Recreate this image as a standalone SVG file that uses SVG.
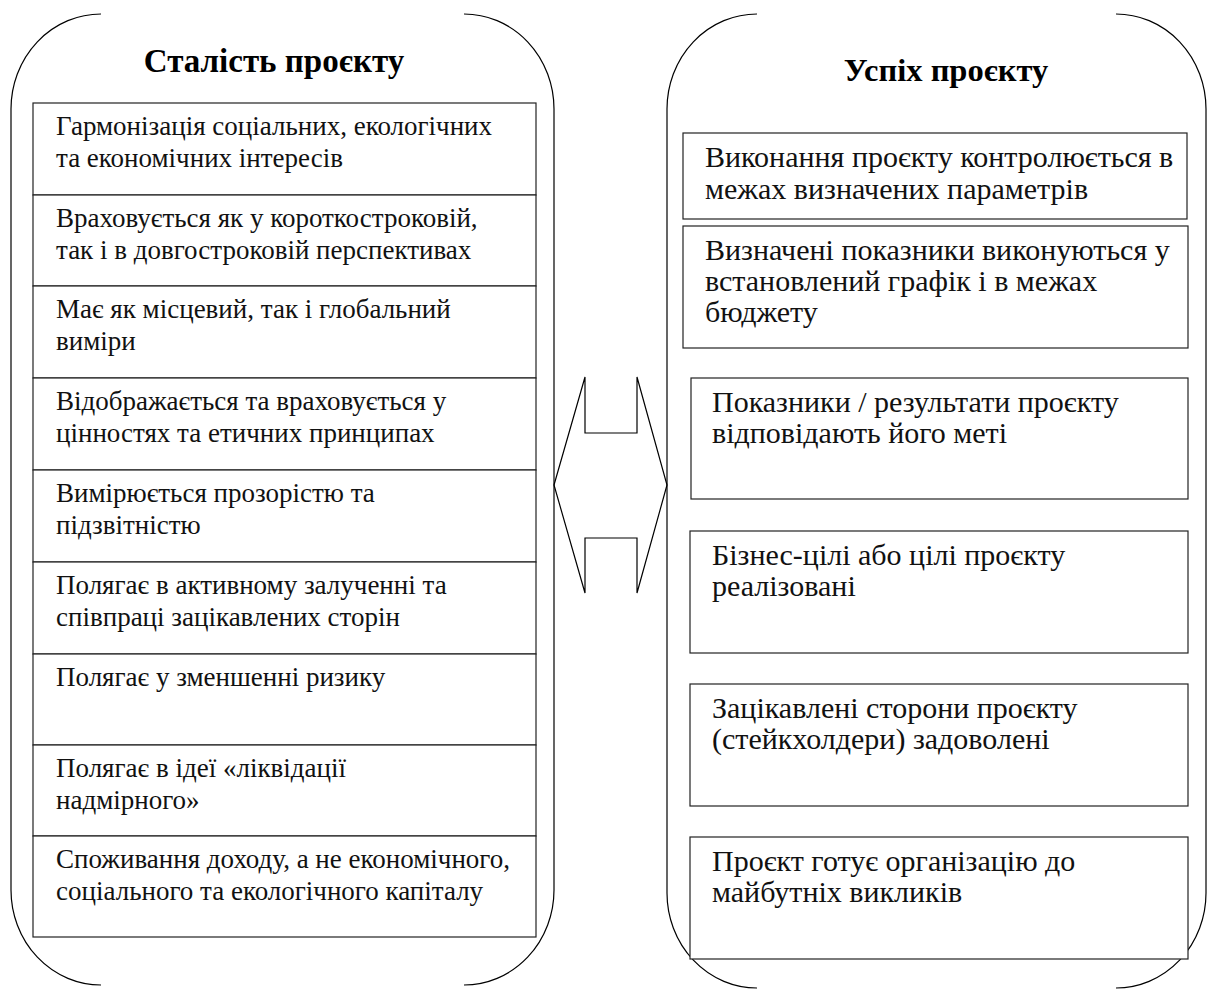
<svg xmlns="http://www.w3.org/2000/svg" width="1210" height="994" viewBox="0 0 1210 994">
<style>
.br{fill:none;stroke:#000;stroke-width:1.2}
.bx{fill:#fff;stroke:#222;stroke-width:1.2}
.t{font-family:"Liberation Serif","DejaVu Serif",serif;font-size:27px;fill:#111}
.r{font-family:"Liberation Serif","DejaVu Serif",serif;font-size:30px;fill:#111}
.h{font-family:"Liberation Serif","DejaVu Serif",serif;font-size:33px;font-weight:bold;fill:#000;text-anchor:middle}
.h2{font-family:"Liberation Serif","DejaVu Serif",serif;font-size:32.5px;font-weight:bold;fill:#000;text-anchor:middle}
.ar{fill:none;stroke:#000;stroke-width:1.2;stroke-linejoin:miter}
</style>
<rect width="1210" height="994" fill="#fff"/>
<g id="sustainability">
<path class="br" d="M101,14 A90,95 0 0 0 11,109 L11,890 A90,95 0 0 0 101,985"/>
<path class="br" d="M464,14 A90,95 0 0 1 554,109 L554,890 A90,95 0 0 1 464,985"/>
<text class="h" x="274" y="72">Сталість проєкту</text>
</g>
<g id="success">
<path class="br" d="M757,14 A90,95 0 0 0 667,109 L667,893 A90,95 0 0 0 757,988"/>
<path class="br" d="M1116,14 A90,95 0 0 1 1206,109 L1206,893 A90,95 0 0 1 1116,988"/>
<text class="h2" x="946" y="81">Успіх проєкту</text>
</g>
<g id="s1"><rect class="bx" x="33" y="103" width="503" height="92"/><text class="t" x="56" y="135">Гармонізація соціальних, екологічних</text><text class="t" x="56" y="167">та економічних інтересів</text></g>
<g id="s2"><rect class="bx" x="33" y="195" width="503" height="91"/><text class="t" x="56" y="227">Враховується як у короткостроковій,</text><text class="t" x="56" y="259">так і в довгостроковій перспективах</text></g>
<g id="s3"><rect class="bx" x="33" y="286" width="503" height="92"/><text class="t" x="56" y="318">Має як місцевий, так і глобальний</text><text class="t" x="56" y="350">виміри</text></g>
<g id="s4"><rect class="bx" x="33" y="378" width="503" height="92"/><text class="t" x="56" y="410">Відображається та враховується у</text><text class="t" x="56" y="442">цінностях та етичних принципах</text></g>
<g id="s5"><rect class="bx" x="33" y="470" width="503" height="92"/><text class="t" x="56" y="502">Вимірюється прозорістю та</text><text class="t" x="56" y="534">підзвітністю</text></g>
<g id="s6"><rect class="bx" x="33" y="562" width="503" height="92"/><text class="t" x="56" y="594">Полягає в активному залученні та</text><text class="t" x="56" y="626">співпраці зацікавлених сторін</text></g>
<g id="s7"><rect class="bx" x="33" y="654" width="503" height="91"/><text class="t" x="56" y="686">Полягає у зменшенні ризику</text></g>
<g id="s8"><rect class="bx" x="33" y="745" width="503" height="91"/><text class="t" x="56" y="777">Полягає в ідеї «ліквідації</text><text class="t" x="56" y="809">надмірного»</text></g>
<g id="s9"><rect class="bx" x="33" y="836" width="503" height="101"/><text class="t" x="56" y="868">Споживання доходу, а не економічного,</text><text class="t" x="56" y="900">соціального та екологічного капіталу</text></g>
<g id="p1"><rect class="bx" x="683" y="133" width="504" height="86"/><text class="r" x="705" y="167">Виконання проєкту контролюється в</text><text class="r" x="705" y="199">межах визначених параметрів</text></g>
<g id="p2"><rect class="bx" x="683" y="226" width="505" height="122"/><text class="r" x="705" y="260">Визначені показники виконуються у</text><text class="r" x="705" y="291">встановлений графік і в межах</text><text class="r" x="705" y="322">бюджету</text></g>
<g id="p3"><rect class="bx" x="691" y="378" width="497" height="121"/><text class="r" x="712" y="412">Показники / результати проєкту</text><text class="r" x="712" y="443">відповідають його меті</text></g>
<g id="p4"><rect class="bx" x="690" y="531" width="498" height="122"/><text class="r" x="712" y="565">Бізнес-цілі або цілі проєкту</text><text class="r" x="712" y="596">реалізовані</text></g>
<g id="p5"><rect class="bx" x="690" y="684" width="498" height="122"/><text class="r" x="712" y="718">Зацікавлені сторони проєкту</text><text class="r" x="712" y="749">(стейкхолдери) задоволені</text></g>
<g id="p6"><rect class="bx" x="690" y="837" width="498" height="122"/><text class="r" x="712" y="871">Проєкт готує організацію до</text><text class="r" x="712" y="902">майбутніх викликів</text></g>
<g id="connectors">
<path class="ar" d="M554,485 L585,377 L585,433 L637,433 L637,377 L667,485 L637,593 L637,538 L585,538 L585,593 Z"/>
</g>
</svg>
